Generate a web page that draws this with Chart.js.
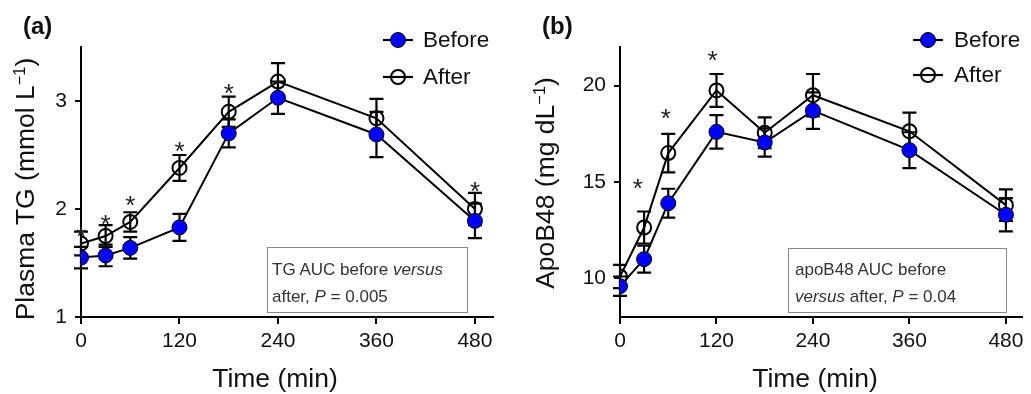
<!DOCTYPE html>
<html>
<head>
<meta charset="utf-8">
<script src="https://cdn.jsdelivr.net/npm/chart.js@4.4.1/dist/chart.umd.min.js"></script>
<style>
  html, body { margin:0; padding:0; background:#fff; }
  #wrap { position:relative; width:1031px; height:394px; overflow:hidden; font-family:"Liberation Sans", Arial, sans-serif; color:#111; }
  canvas { position:absolute; top:0; }
  .t { position:absolute; white-space:nowrap; line-height:1; }
  .ytitle { transform: translate(-50%,-50%) rotate(-90deg); font-size:26.5px; }
  .xtitle { transform: translate(-50%,-50%); font-size:26.5px; }
  .panel { font-weight:bold; font-size:24px; transform: translateY(-50%); }
  .box { position:absolute; border:1.5px solid #8a8a8a; box-sizing:border-box; background:transparent; }
  .auc { position:absolute; white-space:nowrap; font-size:17px; line-height:20px; color:#333; }
  sup { font-size:0.62em; vertical-align:0.55em; line-height:0; }
</style>
</head>
<body>
<div id="wrap">
  <canvas id="ca" width="515" height="394" style="left:0"></canvas>
  <canvas id="cb" width="516" height="394" style="left:515px"></canvas>

  <div class="t panel" style="left:23px; top:26px;">(a)</div>
  <div class="t panel" style="left:542px; top:26px;">(b)</div>

  <div class="t ytitle" style="left:25px; top:189px;">Plasma TG (mmol L<sup>−1</sup>)</div>
  <div class="t ytitle" style="left:545px; top:183px;">ApoB48 (mg dL<sup>−1</sup>)</div>
  <div class="t xtitle" style="left:275px; top:378px;">Time (min)</div>
  <div class="t xtitle" style="left:815px; top:378px;">Time (min)</div>

  <div class="box" style="left:267px; top:247px; width:201px; height:66px;"></div>
  <div class="auc" style="left:272px; top:260px;">TG AUC before <i>versus</i></div>
  <div class="auc" style="left:272px; top:287px;">after, <i>P</i> = 0.005</div>

  <div class="box" style="left:788px; top:248px; width:219px; height:65px;"></div>
  <div class="auc" style="left:795px; top:260px;">apoB48 AUC before</div>
  <div class="auc" style="left:795px; top:287px;"><i>versus</i> after, <i>P</i> = 0.04</div>
</div>

<script>
// ---- data ----
const times = [0, 30, 60, 120, 180, 240, 360, 480];
const xTicks = [0, 120, 240, 360, 480];

const tgBefore    = [1.55, 1.57, 1.64, 1.83, 2.70, 3.03, 2.69, 1.89];
const tgBeforeErr = [0.10, 0.10, 0.10, 0.125, 0.13, 0.15, 0.21, 0.16];
const tgAfter     = [1.68, 1.75, 1.88, 2.38, 2.90, 3.18, 2.84, 2.00];
const tgAfterErr  = [0.11, 0.10, 0.09, 0.12, 0.14, 0.17, 0.18, 0.15];
const tgTicks = [1, 2, 3];
const tgStarTimes  = [0, 30, 60, 120, 180, 480];
const tgStarValues = [1.81, 1.92, 2.09, 2.59, 3.13, 2.22];

const apoBefore    = [9.6, 11.0, 13.9, 17.6, 17.05, 18.7, 16.65, 13.3];
const apoBeforeErr = [0.5, 0.7, 0.75, 0.87, 0.73, 0.95, 0.93, 0.86];
const apoAfter     = [10.1, 12.64, 16.5, 19.75, 17.55, 19.5, 17.63, 13.8];
const apoAfterErr  = [0.6, 0.83, 1.0, 0.85, 0.8, 1.1, 0.97, 0.82];
const apoTicks = [10, 15, 20];
const apoStarTimes  = [22, 57, 115];
const apoStarValues = [15.0, 18.62, 21.62];

const seriesLabels = ['Before', 'After'];

// ---- helpers ----
const FONT = '"Liberation Sans", Arial, sans-serif';
const pts = (vals) => times.map((t, i) => ({ x: t, y: vals[i] }));

const errorBarPlugin = {
  id: 'errorBars',
  beforeDatasetsDraw(chart) {
    const { ctx, scales: { x, y } } = chart;
    ctx.save();
    ctx.strokeStyle = '#000';
    ctx.lineWidth = 2.2;
    chart.data.datasets.forEach(ds => {
      (ds.errors || []).forEach((e, i) => {
        const v = ds.data[i];
        const px = x.getPixelForValue(v.x);
        const y1 = y.getPixelForValue(v.y - e);
        const y2 = y.getPixelForValue(v.y + e);
        ctx.beginPath();
        ctx.moveTo(px, y1); ctx.lineTo(px, y2);
        ctx.moveTo(px - 7, y1); ctx.lineTo(px + 7, y1);
        ctx.moveTo(px - 7, y2); ctx.lineTo(px + 7, y2);
        ctx.stroke();
      });
    });
    ctx.restore();
  }
};

const starPlugin = {
  id: 'stars',
  afterDatasetsDraw(chart, args, opts) {
    const { ctx, scales: { x, y } } = chart;
    ctx.save();
    ctx.fillStyle = '#222';
    ctx.font = '26px ' + FONT;
    ctx.textAlign = 'center';
    ctx.textBaseline = 'alphabetic';
    opts.times.forEach((t, i) => {
      ctx.fillText('*', x.getPixelForValue(t), y.getPixelForValue(opts.values[i]) + 15);
    });
    ctx.restore();
  }
};

const legendPlugin = {
  id: 'customLegend',
  afterDraw(chart, args, opts) {
    const { ctx } = chart;
    ctx.save();
    chart.data.datasets.forEach((ds, i) => {
      const yy = opts.ys[i];
      ctx.strokeStyle = '#000';
      ctx.lineWidth = 2.2;
      ctx.beginPath();
      ctx.moveTo(opts.x0, yy); ctx.lineTo(opts.x1, yy);
      ctx.stroke();
      ctx.beginPath();
      ctx.arc((opts.x0 + opts.x1) / 2, yy, ds.pointRadius, 0, Math.PI * 2);
      if (ds.pointBackgroundColor !== 'rgba(0,0,0,0)') {
        ctx.fillStyle = ds.pointBackgroundColor; ctx.fill();
      }
      ctx.lineWidth = ds.pointBorderWidth;
      ctx.strokeStyle = ds.pointBorderColor;
      ctx.stroke();
      ctx.fillStyle = '#111';
      ctx.font = '22.5px ' + FONT;
      ctx.textAlign = 'left';
      ctx.textBaseline = 'middle';
      ctx.fillText(ds.label, opts.tx, yy + 1);
    });
    ctx.restore();
  }
};

function makeChart(id, before, beforeErr, after, afterErr, yMin, yMax, yTicks, xMax,
                   yWidth, padRight, stars, legend) {
  return new Chart(document.getElementById(id), {
    type: 'line',
    data: {
      datasets: [
        {
          label: seriesLabels[0], data: pts(before), errors: beforeErr,
          borderColor: '#000', borderWidth: 2,
          pointRadius: 7.5, pointHoverRadius: 7.5,
          pointBackgroundColor: '#0000ff', pointBorderColor: '#000', pointBorderWidth: 1
        },
        {
          label: seriesLabels[1], data: pts(after), errors: afterErr,
          borderColor: '#000', borderWidth: 2,
          pointRadius: 7, pointHoverRadius: 7,
          pointBackgroundColor: 'rgba(0,0,0,0)', pointBorderColor: '#000', pointBorderWidth: 2
        }
      ]
    },
    options: {
      responsive: false,
      animation: false,
      events: [],
      layout: { padding: { top: 47, right: padRight, bottom: 0, left: 0 } },
      plugins: {
        legend: { display: false },
        tooltip: { enabled: false },
        stars: stars,
        customLegend: legend
      },
      scales: {
        x: {
          type: 'linear', min: 0, max: xMax,
          afterBuildTicks: s => { s.ticks = xTicks.map(v => ({ value: v })); },
          afterFit: s => { s.height = 77; s.paddingLeft = 0; s.paddingRight = 0; },
          grid: { display: true, drawOnChartArea: false, drawTicks: true, tickLength: 7, color: '#000', lineWidth: 2 },
          border: { display: true, color: '#000', width: 2 },
          ticks: { font: { size: 21, family: FONT }, color: '#111', padding: 5, maxRotation: 0 }
        },
        y: {
          type: 'linear', min: yMin, max: yMax,
          afterBuildTicks: s => { s.ticks = yTicks.map(v => ({ value: v })); },
          afterFit: s => { s.width = yWidth; s.paddingTop = 0; s.paddingBottom = 0; },
          grid: { display: true, drawOnChartArea: false, drawTicks: true, tickLength: 6, color: '#000', lineWidth: 2 },
          border: { display: true, color: '#000', width: 2 },
          ticks: { font: { size: 21, family: FONT }, color: '#111', padding: 8 }
        }
      }
    },
    plugins: [errorBarPlugin, starPlugin, legendPlugin]
  });
}

makeChart('ca', tgBefore, tgBeforeErr, tgAfter, tgAfterErr, 1, 3.5, tgTicks, 502, 81, 22,
  { times: tgStarTimes, values: tgStarValues },
  { x0: 383, x1: 413, tx: 423, ys: [40, 77] });

makeChart('cb', apoBefore, apoBeforeErr, apoAfter, apoAfterErr, 8, 22, apoTicks, 500, 105, 3,
  { times: apoStarTimes, values: apoStarValues },
  { x0: 398, x1: 428, tx: 439, ys: [40, 75] });
</script>
</body>
</html>
